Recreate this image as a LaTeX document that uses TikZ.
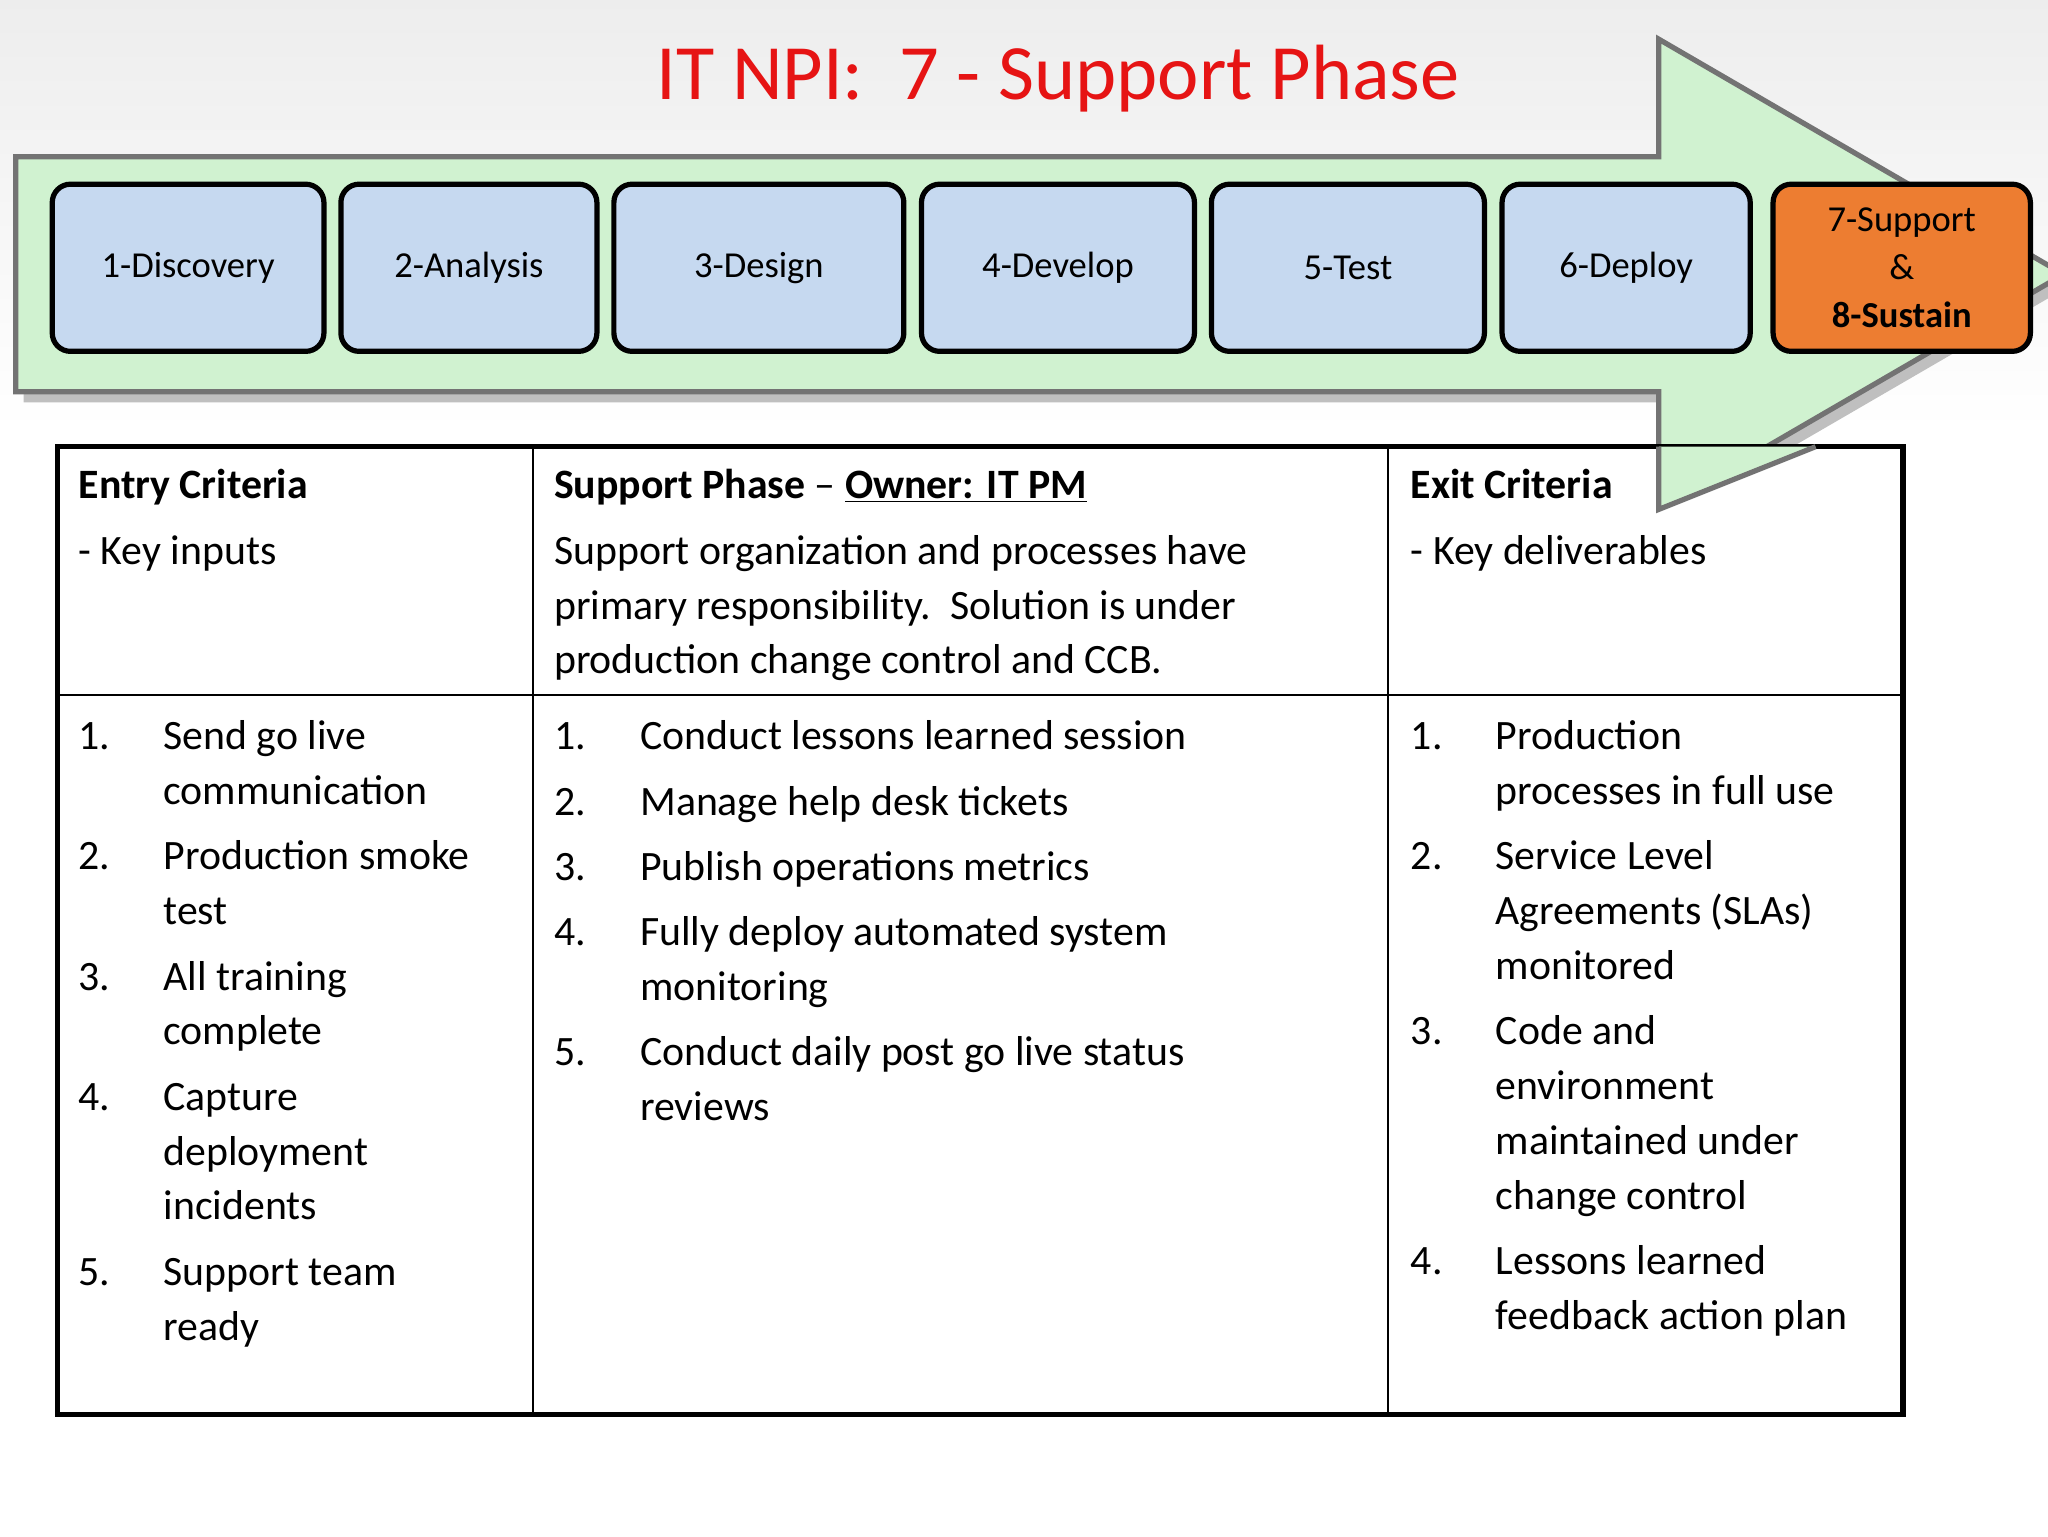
\documentclass[tikz,border=0pt]{standalone}
\usepackage{fontspec}
\setmainfont{Carlito}
\definecolor{boxblue}{RGB}{198,217,240}
\definecolor{arrgreen}{RGB}{208,242,208}
\definecolor{orng}{RGB}{237,125,49}
\definecolor{ttl}{RGB}{230,20,20}
\begin{document}
\begin{tikzpicture}[x=1pt,y=-1pt,
  phase/.style={draw=black,line width=4pt,rounded corners=14pt,fill=boxblue,minimum height=128pt,font=\fontsize{28}{34}\selectfont,inner sep=0pt},
  t/.style={anchor=base west,inner sep=0pt,font=\fontsize{32}{42}\selectfont},
  n/.style={t}]
\useasboundingbox (0,0) rectangle (1568,1176);
\shade[top color=black!7,bottom color=white] (0,0) rectangle (1568,330);
% arrow
\coordinate (a1) at (12,120); \coordinate (a2) at (1270,120); \coordinate (a3) at (1270,30);
\coordinate (a4) at (1580,210); \coordinate (a5) at (1270,390); \coordinate (a6) at (1270,300); \coordinate (a7) at (12,300);
\fill[black!25] ([shift={(6,8)}]a1) -- ([shift={(6,8)}]a2) -- ([shift={(6,8)}]a3) -- ([shift={(6,8)}]a4) -- ([shift={(6,8)}]a5) -- ([shift={(6,8)}]a6) -- ([shift={(6,8)}]a7) -- cycle;
\draw[draw=black!55,line width=4pt,fill=arrgreen] (a1) -- (a2) -- (a3) -- (a4) -- (a5) -- (a6) -- (a7) -- cycle;
\node[ttl,font=\fontsize{60}{70}\selectfont] (title) at (810,60) {IT NPI:\ \ 7 - Support Phase};
% phases
\node[phase,minimum width=208pt] (p1) at (144,205) {1-Discovery};
\node[phase,minimum width=196pt] (p2) at (359,205) {2-Analysis};
\node[phase,minimum width=222pt] (p3) at (581,205) {3-Design};
\node[phase,minimum width=209pt] (p4) at (810,205) {4-Develop};
\node[phase,minimum width=209pt] (p5) at (1032,205) {5-Test};
\node[phase,minimum width=190pt] (p6) at (1245,205) {6-Deploy};
\node[phase,minimum width=197pt,fill=orng,align=center,font=\fontsize{28}{37}\selectfont] (p7) at (1456,205) {7-Support\\ \&\\ \textbf{8-Sustain}};
% table
\fill[white] (44,342) rectangle (1457,1083);
\draw[line width=1.5pt] (408,342) -- (408,1083) (1063,342) -- (1063,1083) (44,532) -- (1457,532);
\draw[line width=4pt] (44,342) rectangle (1457,1083);
% re-draw arrow tip part over table
\begin{scope}
\clip (1063,330) rectangle (1458,400);
\end{scope}
\draw[draw=black!55,line width=4pt,fill=arrgreen] (1270,342) -- (1270,390) -- (1390,342);
% headers
\node[t] (h1) at (60,382) {\textbf{Entry Criteria}};
\node[t] (h1b) at (60,432) {- Key inputs};
\node[t] (h2) at (424,382) {\textbf{Support Phase} -- \textbf{\underline{Owner: IT PM}}};
\node[t] (h2a) at (424,432) {Support organization and processes have};
\node[t] (h2b) at (424,474) {primary responsibility.\ \ Solution is under};
\node[t] (h2c) at (424,516) {production change control and CCB.};
\node[t] (h3) at (1080,382) {\textbf{Exit Criteria}};
\node[t] (h3b) at (1080,432) {- Key deliverables};
% entry list
\node[n] (e1) at (60,574) {1.}; \node[t] (e1a) at (125,574) {Send go live}; \node[t] (e1b) at (125,616) {communication};
\node[n] (e2) at (60,666) {2.}; \node[t] (e2a) at (125,666) {Production smoke}; \node[t] (e2b) at (125,708) {test};
\node[n] (e3) at (60,758) {3.}; \node[t] (e3a) at (125,758) {All training}; \node[t] (e3b) at (125,800) {complete};
\node[n] (e4) at (60,850) {4.}; \node[t] (e4a) at (125,850) {Capture}; \node[t] (e4b) at (125,892) {deployment}; \node[t] (e4c) at (125,934) {incidents};
\node[n] (e5) at (60,984) {5.}; \node[t] (e5a) at (125,984) {Support team}; \node[t] (e5b) at (125,1026) {ready};
% middle list
\node[n] (m1) at (424,574) {1.}; \node[t] (m1a) at (490,574) {Conduct lessons learned session};
\node[n] (m2) at (424,624) {2.}; \node[t] (m2a) at (490,624) {Manage help desk tickets};
\node[n] (m3) at (424,674) {3.}; \node[t] (m3a) at (490,674) {Publish operations metrics};
\node[n] (m4) at (424,724) {4.}; \node[t] (m4a) at (490,724) {Fully deploy automated system}; \node[t] (m4b) at (490,766) {monitoring};
\node[n] (m5) at (424,816) {5.}; \node[t] (m5a) at (490,816) {Conduct daily post go live status}; \node[t] (m5b) at (490,858) {reviews};
% exit list
\node[n] (x1) at (1080,574) {1.}; \node[t] (x1a) at (1145,574) {Production}; \node[t] (x1b) at (1145,616) {processes in full use};
\node[n] (x2) at (1080,666) {2.}; \node[t] (x2a) at (1145,666) {Service Level}; \node[t] (x2b) at (1145,708) {Agreements (SLAs)}; \node[t] (x2c) at (1145,750) {monitored};
\node[n] (x3) at (1080,800) {3.}; \node[t] (x3a) at (1145,800) {Code and}; \node[t] (x3b) at (1145,842) {environment}; \node[t] (x3c) at (1145,884) {maintained under}; \node[t] (x3d) at (1145,926) {change control};
\node[n] (x4) at (1080,976) {4.}; \node[t] (x4a) at (1145,976) {Lessons learned}; \node[t] (x4b) at (1145,1018) {feedback action plan};
\end{tikzpicture}
\end{document}
